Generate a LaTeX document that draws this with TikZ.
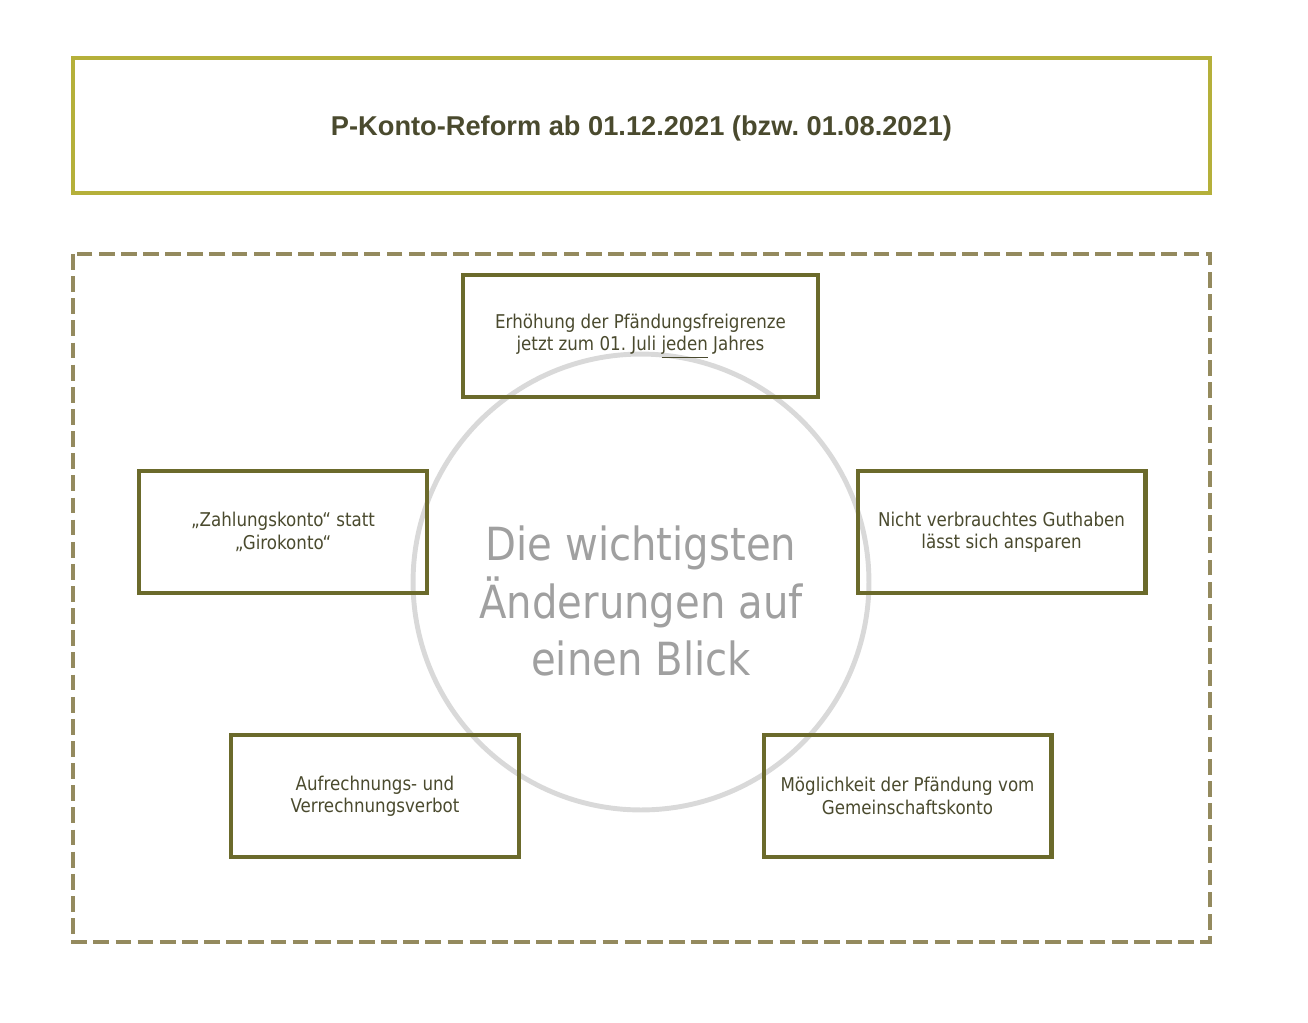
\documentclass[tikz,border=0pt]{standalone}
\usepackage{fontspec}
\setmainfont{DejaVu Sans}[FakeStretch=0.88]
\newfontfamily\titlefont{Liberation Sans}
\usepackage{tikz}
\frenchspacing

\definecolor{titlerand}{HTML}{B5B03A}
\definecolor{boxrand}{HTML}{6B6A2B}
\definecolor{textdunkel}{HTML}{4A4A2E}
\definecolor{strichrand}{HTML}{948A5E}
\definecolor{kreisgrau}{HTML}{D9D9D9}
\definecolor{mittegrau}{HTML}{A0A0A0}

\begin{document}
\begin{tikzpicture}[x=0.02cm, y=-0.02cm,
    punkt/.style={rectangle, draw=boxrand, line width=2.3pt, minimum width=5.76cm, minimum height=2.44cm,
        align=center, text=textdunkel, font=\fontsize{10.8}{12.8}\selectfont}]
    \useasboundingbox (0,0) rectangle (1308,1022);

    % Titel
    \node[rectangle, draw=titlerand, line width=2.3pt, minimum width=22.74cm, minimum height=2.7cm,
        text depth=0pt, text=textdunkel, font=\titlefont\bfseries\fontsize{15.5}{18}\selectfont] (titel) at (641.5,125.5)
        {P-Konto-Reform ab 01.12.2021 (bzw. 01.08.2021)};

    % Rahmen gestrichelt
    \draw[strichrand, line width=2.3pt, dash pattern=on 9pt off 3.6pt] (73,254) rectangle (1210,942);

    % Kreis in der Mitte
    \node[circle, draw=kreisgrau, line width=2.8pt, minimum size=9.12cm] (mitte) at (641,582) {};
    \node[align=center, text=mittegrau, font=\fontsize{26}{32.6}\selectfont] (mittetext) at (641,601)
        {Die wichtigsten\\Änderungen auf\\einen Blick};

    % Die fuenf Punkte
    \node[punkt, minimum width=7.1cm] (oben) at (640.5,336)
        {Erhöhung der Pfändungsfreigrenze\\jetzt zum 01. Juli \underline{jeden} Jahres};
    \node[punkt] (links) at (283,532) {„Zahlungskonto“ statt\\„Girokonto“};
    \node[punkt] (rechts) at (1001.5,532) {Nicht verbrauchtes Guthaben\\lässt sich ansparen};
    \node[punkt] (untenlinks) at (375,796) {Aufrechnungs- und\\Verrechnungsverbot};
    \node[punkt] (untenrechts) at (907.5,796) {Möglichkeit der Pfändung vom\\Gemeinschaftskonto};
\end{tikzpicture}
\end{document}
